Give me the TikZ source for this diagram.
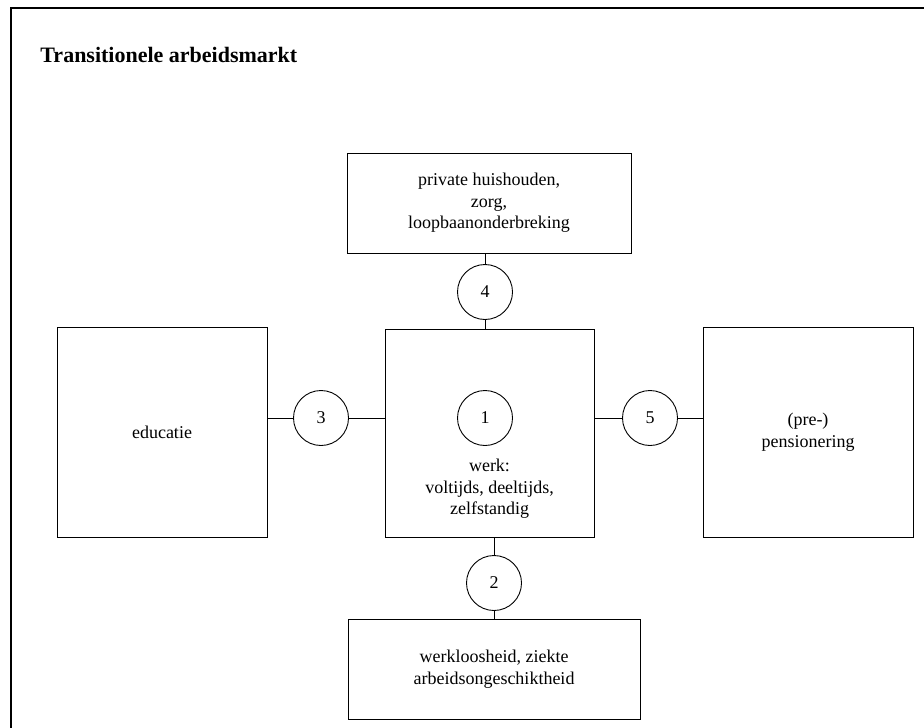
\documentclass[tikz,border=0pt]{standalone}
\usepackage{fontspec}
\setmainfont{Liberation Serif}
\usetikzlibrary{positioning}

\begin{document}
\begin{tikzpicture}[x=1pt, y=-1pt, line width=0.9pt,
    font=\fontsize{18}{21.5}\selectfont,
    box/.style={draw, rectangle, align=center, inner sep=0pt},
    num/.style={draw, circle, minimum size=55pt, inner sep=0pt}]
    \useasboundingbox (0,0) rectangle (924,728);
    \draw[line width=1.5pt] (11,728) -- (11,8) -- (924,8);
    \node (titel) [anchor=base west, inner sep=0pt, font=\fontsize{22}{26}\selectfont\bfseries] at (40,62) {Transitionele arbeidsmarkt};
    % boxes
    \node (werk) [box, minimum width=209pt, minimum height=208pt] at (489.5,433) {};
    \node (huis) [box, minimum width=284pt, minimum height=100pt] at (489,203) {private huishouden,\\ zorg,\\ loopbaanonderbreking};
    \node (educ) [box, minimum width=210pt, minimum height=210pt] at (162,432) {educatie};
    \node (pens) [box, minimum width=210pt, minimum height=210pt] at (808,432) {(pre-)\\ pensionering};
    \node (loos) [box, minimum width=292pt, minimum height=100pt] at (494,669) {werkloosheid, ziekte\\ arbeidsongeschiktheid};
    \node (werktekst) [align=center] at (489.5,489) {werk:\\ voltijds, deeltijds,\\ zelfstandig};
    % transitions
    \node (c1) [num] at (485,418) {1};
    \node (c2) [num] at (494,583) {2};
    \node (c3) [num] at (321,418) {3};
    \node (c4) [num] at (485,292) {4};
    \node (c5) [num] at (650,418) {5};
    \draw (educ.east |- c3) -- (c3);
    \draw (c3) -- (werk.west |- c3);
    \draw (werk.east |- c5) -- (c5);
    \draw (c5) -- (pens.west |- c5);
    \draw (huis.south -| c4) -- (c4);
    \draw (c4) -- (werk.north -| c4);
    \draw (werk.south -| c2) -- (c2);
    \draw (c2) -- (loos.north -| c2);
\end{tikzpicture}
\end{document}
